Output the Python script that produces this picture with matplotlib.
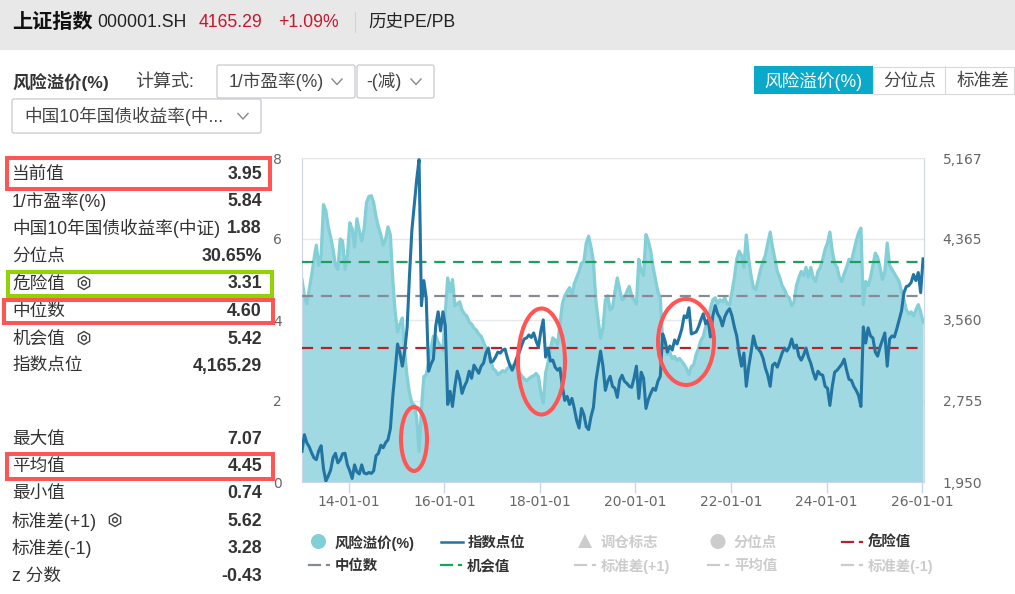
"""上证指数风险溢价页面截图的复刻。"""

import matplotlib
matplotlib.use("Agg")
import matplotlib.pyplot as plt
from matplotlib.patches import Circle, Ellipse, Polygon, Rectangle, RegularPolygon, FancyBboxPatch

plt.rcParams["font.family"] = ["Liberation Sans", "Noto Sans CJK SC", "DejaVu Sans"]

# odczyty co 0.05 roku, od 2013.02; jeden wiersz na rok
START_YEAR = 2013.02
STEP_YEAR = 0.05

premium_values = [
    5.00, 4.60, 4.40, 4.75, 5.10, 5.50, 5.85, 5.35, 5.60, 6.85, 6.70, 6.30, 6.05, 5.75, 5.35, 5.25, 6.00, 5.95, 5.25, 5.60,
    6.40, 6.25, 5.80, 6.50, 6.20, 5.95, 6.25, 6.90, 7.05, 7.07, 6.90, 6.55, 6.30, 6.10, 5.85, 6.00, 6.30, 6.10, 5.00, 4.20,
    3.70, 3.90, 4.05, 3.20, 2.60, 2.20, 1.95, 1.90, 1.60, 0.76, 1.80, 2.60, 2.65, 2.95, 3.30, 3.60, 3.60, 3.45, 3.35, 3.25,
    4.20, 5.04, 4.70, 5.00, 4.35, 4.40, 4.45, 4.25, 4.15, 4.10, 3.95, 3.90, 3.80, 3.75, 3.65, 3.60, 3.45, 3.30, 3.25, 3.00,
    2.80, 2.75, 2.65, 2.70, 2.75, 2.72, 2.80, 2.85, 2.88, 2.85, 2.80, 2.70, 2.62, 2.55, 2.50, 2.55, 2.60, 2.62, 2.68, 2.60,
    2.20, 1.95, 2.70, 2.95, 3.30, 3.56, 3.50, 3.40, 3.90, 4.40, 4.60, 4.70, 4.80, 4.60, 4.90, 5.05, 5.20, 5.40, 5.45, 5.90,
    6.07, 5.80, 5.45, 4.50, 4.00, 3.55, 3.80, 4.50, 4.60, 4.25, 4.30, 4.70, 5.04, 4.75, 4.50, 4.55, 4.70, 4.83, 4.60, 4.50,
    4.40, 5.50, 5.20, 5.10, 6.11, 5.95, 5.70, 5.30, 5.00, 4.70, 4.55, 3.45, 3.25, 3.15, 3.20, 3.05, 3.10, 3.00, 3.05, 2.98,
    2.90, 2.80, 2.65, 2.85, 2.90, 3.15, 3.30, 3.50, 3.60, 3.85, 3.95, 4.30, 4.50, 4.55, 4.40, 4.50, 4.45, 4.55, 4.40, 4.38,
    4.70, 5.04, 5.50, 5.70, 5.60, 5.30, 6.10, 5.50, 5.10, 4.80, 4.75, 5.00, 5.25, 5.45, 5.60, 5.90, 6.17, 5.80, 5.50, 5.20,
    5.05, 4.85, 4.75, 4.60, 4.55, 4.35, 4.45, 4.85, 5.05, 5.20, 5.10, 5.30, 5.05, 5.30, 5.05, 4.95, 5.20, 5.30, 5.50, 5.75,
    5.90, 6.17, 5.70, 5.40, 5.30, 5.05, 4.95, 5.15, 5.30, 5.50, 5.45, 5.70, 5.95, 6.15, 6.27, 4.38, 4.95, 4.85, 5.05, 5.35,
    5.65, 5.55, 5.30, 5.00, 5.20, 5.90, 5.35, 5.25, 5.15, 5.05, 4.95, 4.70, 4.50, 4.25, 4.15, 4.20, 4.10, 4.25, 4.38, 4.20,
    3.95,
]

index_values = [
    2255, 2420, 2340, 2300, 2240, 2190, 2172, 2260, 2310, 2080, 1960, 2010, 2070, 2190, 2235, 2140, 2170, 2230, 2235, 2120,
    2060, 1985, 2120, 2050, 2030, 2120, 2040, 2030, 2045, 2035, 2060, 2210, 2235, 2315, 2290, 2340, 2370, 2480, 2800, 3050,
    3320, 3230, 3100, 3250, 3480, 4000, 4450, 4700, 4950, 5151, 3700, 3950, 3780, 3050, 3120, 3170, 3500, 3640, 3450, 3640,
    3500, 2720, 2850, 2700, 2900, 3050, 2970, 2830, 2900, 2950, 3050, 2980, 3110, 3070, 3030, 3100, 3130, 3230, 3280, 3140,
    3150, 3190, 3240, 3230, 3260, 3270, 3180, 3110, 3060, 3120, 3190, 3240, 3310, 3370, 3380, 3410, 3385, 3430, 3350, 3290,
    3450, 3560, 3190, 3280, 3150, 3160, 3090, 3060, 3080, 2900, 2760, 2800, 2720, 2780, 2680, 2560, 2486, 2680, 2620, 2500,
    2470, 2600, 2690, 2950, 3100, 3250, 3100, 2860, 2950, 3000, 2900, 2880, 2790, 2960, 3010, 2950, 2930, 2900, 2890, 2980,
    3100, 2780, 3040, 2980, 2680, 2770, 2830, 2880, 2860, 2950, 3000, 3420, 3350, 3240, 3300, 3260, 3360, 3320, 3390, 3470,
    3600, 3580, 3680, 3420, 3430, 3440, 3490, 3560, 3620, 3520, 3560, 3390, 3600, 3700, 3620, 3580, 3500, 3590, 3640, 3670,
    3600, 3490, 3400, 3230, 3100, 3230, 2900, 3090, 3240, 3400, 3300, 3270, 3240, 3180, 3080, 3010, 2900, 3110, 3130, 3090,
    3160, 3230, 3280, 3250, 3290, 3370, 3280, 3310, 3200, 3160, 3210, 3280, 3190, 3130, 3040, 2970, 3050, 3020, 3010, 2900,
    2880, 2710, 2900, 3040, 3060, 3090, 3120, 3170, 3060, 2970, 2960, 2900, 2860, 2810, 2700, 3490, 3330, 3480, 3400, 3380,
    3240, 3200, 3290, 3360, 3430, 3100, 3370, 3400, 3390, 3470, 3560, 3650, 3830, 3890, 3900, 3930, 4010, 3950, 4030, 3830,
    4165,
]

danger_value = 3.31
median_value = 4.60
chance_value = 5.42

x_tick_years = [2014, 2016, 2018, 2020, 2022, 2024, 2026]
x_tick_labels = ["14-01-01", "16-01-01", "18-01-01", "20-01-01", "22-01-01", "24-01-01", "26-01-01"]
left_ticks = [0, 2, 4, 6, 8]
right_ticks = [1950, 2755, 3560, 4365, 5167]

upper_rows = [
    ("当前值", "3.95"), ("1/市盈率(%)", "5.84"), ("中国10年国债收益率(中证)", "1.88"),
    ("分位点", "30.65%"), ("危险值", "3.31"), ("中位数", "4.60"), ("机会值", "5.42"),
    ("指数点位", "4,165.29"),
]
lower_rows = [
    ("最大值", "7.07"), ("平均值", "4.45"), ("最小值", "0.74"), ("标准差(+1)", "5.62"),
    ("标准差(-1)", "3.28"), ("z 分数", "-0.43"),
]

W, H = 1015, 594
TEAL_FILL = "#a0d9e1"
TEAL_LINE = "#82cfd8"
INDEX_BLUE = "#2275a2"
RED_MARK = "#ff5555"
RED_TEXT = "#c8162c"
DASH = (0, (5, 3.5))
FS = 12.7


def lata(wartosci):
    return [START_YEAR + STEP_YEAR * i for i in range(len(wartosci))]


def rysuj_wykres(fig):
    ax = fig.add_axes([302 / W, 1 - 482 / H, 622 / W, 324 / H])
    ax.set_xlim(2013.02, 2026.04)
    ax.set_ylim(0, 8)
    ax.fill_between(lata(premium_values), premium_values, 0, color=TEAL_FILL, lw=0, zorder=2)
    ax.plot(lata(premium_values), premium_values, color=TEAL_LINE, lw=2.3, zorder=2.5)
    ax.axhline(danger_value, color="#b8202a", lw=1.6, ls=DASH, zorder=4)
    ax.axhline(median_value, color="#858a94", lw=1.6, ls=DASH, zorder=4)
    ax.axhline(chance_value, color="#16a35c", lw=1.6, ls=DASH, zorder=4)
    ax.set_yticks(left_ticks)
    ax.set_xticks(x_tick_years, x_tick_labels)
    ax.grid(axis="y", color="#b0b4bc", alpha=0.3, lw=1, zorder=3)
    ax.tick_params(axis="x", length=8, width=1, color="#ccd6eb", labelsize=10, labelcolor="#666666", pad=1.5)
    ax.tick_params(axis="y", length=0, labelsize=10, labelcolor="#666666", pad=14.5)
    for etykieta in ax.get_xticklabels() + ax.get_yticklabels():
        etykieta.set_family(["DejaVu Sans"])
    for nazwa, kolor in (("top", "#e6e6e6"), ("bottom", "#ccd6eb"), ("left", "#ccd6eb"), ("right", "#ccd6eb")):
        ax.spines[nazwa].set_color(kolor)

    ax2 = ax.twinx()
    ax2.set_ylim(1950, 5167)
    ax2.plot(lata(index_values), index_values, color=INDEX_BLUE, lw=2.2, solid_joinstyle="round", zorder=5)
    ax2.set_yticks(right_ticks, [f"{v:,}" for v in right_ticks])
    ax2.tick_params(axis="y", length=0, labelsize=10, labelcolor="#666666", pad=13.5)
    for etykieta in ax2.get_yticklabels():
        etykieta.set_family(["DejaVu Sans"])
    for spine in ax2.spines.values():
        spine.set_visible(False)
    return ax


def rysuj_naglowek(ui):
    ui.add_patch(Rectangle((0, 0), W, 50, color="#e8e8e8", lw=0))
    ui.text(12, 22, "上证指数", fontsize=14.5, fontweight="bold", color="#111111", va="center")
    ui.text(97, 22.5, "000001.SH", fontsize=FS, color="#222222", va="center")
    ui.text(199, 22.5, "4165.29", fontsize=FS, color=RED_TEXT, va="center")
    ui.text(278, 22.5, "+1.09%", fontsize=FS, color=RED_TEXT, va="center")
    ui.plot([355, 355], [12, 32], color="#d4d4d4", lw=0.8)
    ui.text(368, 22.5, "历史PE/PB", fontsize=FS, color="#222222", va="center")

    ui.text(12, 82, "风险溢价(%)", fontsize=12.5, fontweight="bold", color="#333333", va="center")
    ui.text(135, 82, "计算式:", fontsize=13, color="#444444", va="center")
    rysuj_liste(ui, 217, 65, 138, 33, "1/市盈率(%)", 229)
    rysuj_liste(ui, 357, 65, 77, 33, "-(减)", 366)
    rysuj_liste(ui, 12, 99, 249, 34, "中国10年国债收益率(中...", 24)

    ui.add_patch(Rectangle((754, 66), 119, 28, color="#0aa9c9", lw=0))
    ui.add_patch(Rectangle((873.5, 66.5), 141, 27, fc="white", ec="#d9d9d9", lw=0.8))
    ui.plot([945, 945], [66, 94], color="#d9d9d9", lw=0.8)
    ui.text(813.5, 81, "风险溢价(%)", fontsize=FS, color="white", ha="center", va="center")
    ui.text(909.5, 81, "分位点", fontsize=FS, color="#444444", ha="center", va="center")
    ui.text(983, 81, "标准差", fontsize=FS, color="#444444", ha="center", va="center")


def rysuj_liste(ui, x, y, szer, wys, tekst, x_tekstu):
    ui.add_patch(FancyBboxPatch((x + 2, y + 2), szer - 4, wys - 4, boxstyle="round,pad=2,rounding_size=2",
                                fc="white", ec="#c8c8d0", lw=0.9))
    ui.text(x_tekstu, y + wys / 2, tekst, fontsize=FS, color="#444444", va="center")
    sx = x + szer - 18
    sy = y + wys / 2
    ui.plot([sx - 5, sx, sx + 5], [sy - 2.5, sy + 3, sy - 2.5], color="#888888", lw=1)


def rysuj_ikone(ui, x, y):
    ui.add_patch(RegularPolygon((x, y), 6, radius=6.5, fc="white", ec="#444444", lw=1))
    ui.add_patch(Circle((x, y), 2.4, fc="white", ec="#444444", lw=1))


def rysuj_tabele(ui):
    for (etykieta, wartosc), y in zip(upper_rows, [174.5, 201.5, 228.5, 256.5, 284, 311, 339, 366.5]):
        ui.text(12, y, etykieta, fontsize=FS, color="#333333", va="center")
        ui.text(262, y, wartosc, fontsize=12.8, fontweight="bold", color="#333333", va="center", ha="right")
    for (etykieta, wartosc), y in zip(lower_rows, [439.5, 466.5, 493.5, 521.5, 548.5, 576.5]):
        ui.text(12, y, etykieta, fontsize=FS, color="#333333", va="center")
        ui.text(262, y, wartosc, fontsize=12.8, fontweight="bold", color="#333333", va="center", ha="right")
    rysuj_ikone(ui, 84, 283)
    rysuj_ikone(ui, 84, 338)
    rysuj_ikone(ui, 115, 520)

    for x0, y0, x1, y1, kolor in (
        (7.5, 157.5, 270.5, 188.5, RED_MARK),
        (8.5, 271.5, 272.5, 295.5, "#8fd400"),
        (4.5, 299.5, 273.5, 322.5, RED_MARK),
        (7.5, 453.5, 273.5, 478.5, RED_MARK),
    ):
        ui.add_patch(Rectangle((x0, y0), x1 - x0, y1 - y0, fc="none", ec=kolor, lw=2.9, zorder=6))


def rysuj_adnotacje(ui):
    for x, y, szer, wys in ((414, 439, 26, 64), (541.5, 361.5, 47, 106), (686, 342, 56, 86)):
        ui.add_patch(Ellipse((x, y), szer, wys, fc="none", ec=RED_MARK, lw=2.9, zorder=7))


def rysuj_legende(ui):
    aktywny = "#333333"
    wylaczony = "#cccccc"
    fs = 10.4
    ui.add_patch(Ellipse((318.5, 541.5), 15, 15, color=TEAL_LINE, lw=0))
    ui.text(335, 543, "风险溢价(%)", fontsize=fs, fontweight="bold", color=aktywny, va="center")
    ui.plot([441, 463], [542, 542], color=INDEX_BLUE, lw=1.8)
    ui.text(468, 543, "指数点位", fontsize=fs, fontweight="bold", color=aktywny, va="center")
    ui.add_patch(Polygon([(578, 548), (585, 534), (592, 548)], color=wylaczony, lw=0))
    ui.text(601, 543, "调仓标志", fontsize=fs, fontweight="bold", color=wylaczony, va="center")
    ui.add_patch(Ellipse((718, 541.5), 15, 15, color=wylaczony, lw=0))
    ui.text(734, 543, "分位点", fontsize=fs, fontweight="bold", color=wylaczony, va="center")

    dashed = (
        (842, 542, "#b8202a", "危险值", aktywny),
        (309, 565, "#858a94", "中位数", aktywny),
        (441, 565, "#16a35c", "机会值", aktywny),
        (575, 565, wylaczony, "标准差(+1)", wylaczony),
        (708, 565, wylaczony, "平均值", wylaczony),
        (842, 565, wylaczony, "标准差(-1)", wylaczony),
    )
    for x, y, kolor, tekst, kolor_tekstu in dashed:
        ui.plot([x, x + 11], [y, y], color=kolor, lw=1.6)
        ui.plot([x + 18, x + 20], [y, y], color=kolor, lw=1.6)
        ui.text(x + 26, y + 1, tekst, fontsize=fs, fontweight="bold", color=kolor_tekstu, va="center")


def main():
    fig = plt.figure(figsize=(W / 100, H / 100), dpi=100, facecolor="white")
    rysuj_wykres(fig)
    ui = fig.add_axes([0, 0, 1, 1], facecolor="none")
    ui.set_xlim(0, W)
    ui.set_ylim(H, 0)
    ui.axis("off")
    rysuj_naglowek(ui)
    rysuj_tabele(ui)
    rysuj_adnotacje(ui)
    rysuj_legende(ui)
    fig.savefig("out.png", dpi=100)


main()
